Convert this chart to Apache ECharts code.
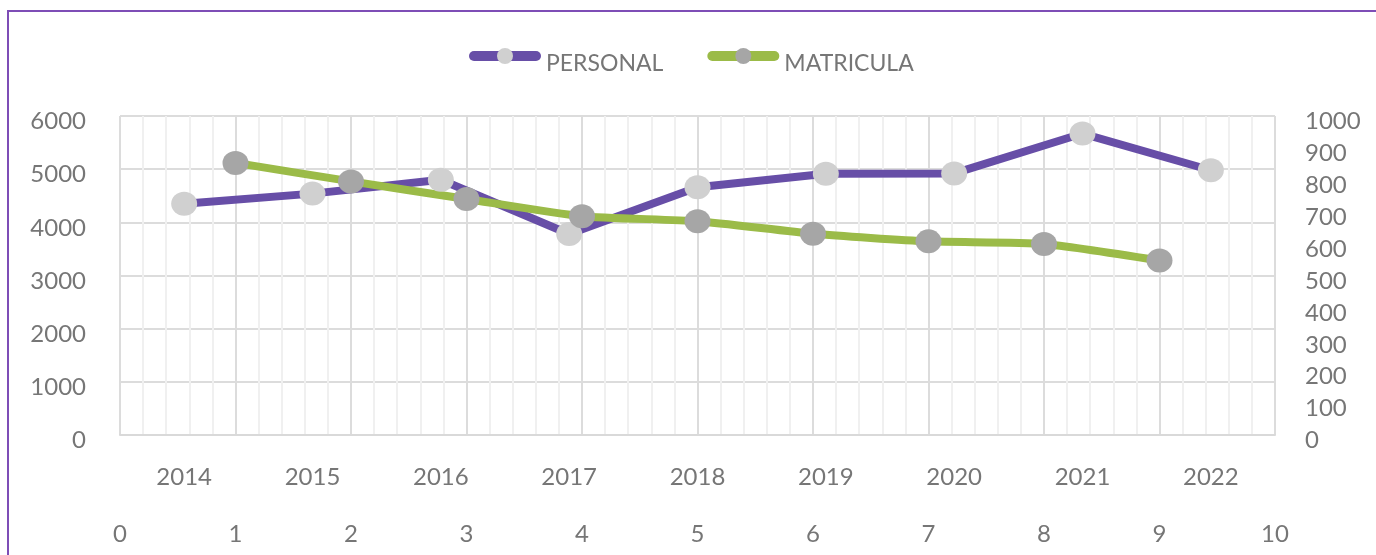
<!DOCTYPE html>
<html lang="es">

<head>
    <meta charset="UTF-8">
    <title>Personal y Matricula</title>
    <script src="https://cdnjs.cloudflare.com/ajax/libs/echarts/6.0.0/echarts.min.js"></script>
    <style>
        html,
        body {
            margin: 0;
            padding: 0;
            background: #fff;
        }
    </style>
</head>

<body>
    <div id="main" style="width: 1376px;height:555px;"></div>
    <script>
        // datos
        const years = ['2014', '2015', '2016', '2017', '2018', '2019', '2020', '2021', '2022'];
        const personal = [4350, 4540, 4800, 3780, 4660, 4915, 4920, 5670, 4980];
        const matriculaX = [1, 2, 3, 4, 5, 6, 7, 8, 9];
        const matricula = [853, 795, 740, 686, 670, 631, 607, 599, 547];

        const chart = echarts.init(document.getElementById('main'));

        const labelColor = '#767676';
        const font = 'Lato, "Open Sans", sans-serif';

        // etiquetas del eje y un poco mas abajo (como en Excel)
        const yLabel = (margin) => ({
            margin: margin,
            formatter: (v) => '{n|' + v + '}',
            rich: {
                n: { color: labelColor, fontSize: 24, fontFamily: font, padding: [11, 0, 0, 0] }
            }
        });

        const option = {
            animation: false,
            graphic: [{
                type: 'rect',
                shape: { x: 8, y: 11, width: 1500, height: 700 },
                style: { fill: 'none', stroke: '#7e4db6', lineWidth: 2 },
                silent: true
            }],
            legend: {
                left: 464,
                top: 43,
                itemWidth: 62,
                itemHeight: 20,
                itemGap: 44,
                formatter: '{t|{name}}',
                textStyle: {
                    rich: {
                        t: { color: labelColor, fontSize: 23, fontFamily: font, padding: [15, 0, 0, 5] }
                    }
                },
                data: [
                    {
                        name: 'PERSONAL',
                        itemStyle: { color: '#d0d0d0', borderWidth: 0 },
                        lineStyle: { color: '#674ea7', width: 10, cap: 'round' }
                    },
                    {
                        name: 'MATRICULA',
                        itemStyle: { color: '#a6a6a6', borderWidth: 0 },
                        lineStyle: { color: '#9bbb48', width: 10, cap: 'round' }
                    }
                ]
            },
            grid: { left: 120, right: 101, top: 116, bottom: 120 },
            xAxis: [
                {
                    type: 'category',
                    data: years,
                    position: 'bottom',
                    boundaryGap: true,
                    axisLine: { lineStyle: { color: '#d9d9d9', width: 2 } },
                    axisTick: { length: 8, lineStyle: { color: '#d9d9d9', width: 2 } },
                    axisLabel: { color: labelColor, fontSize: 24, fontFamily: font, margin: 30, interval: 0 },
                    splitLine: { show: false }
                },
                {
                    type: 'value',
                    position: 'bottom',
                    offset: 56,
                    min: 0,
                    max: 10,
                    interval: 1,
                    axisLine: { show: false },
                    axisTick: { show: false },
                    minorTick: { show: false, splitNumber: 5 },
                    axisLabel: { color: labelColor, fontSize: 24, fontFamily: font, margin: 31 },
                    splitLine: { show: true, lineStyle: { color: '#dcdcdc', width: 2 } },
                    minorSplitLine: { show: true, lineStyle: { color: '#f0f0f0', width: 2 } }
                }
            ],
            yAxis: [
                {
                    type: 'value',
                    position: 'left',
                    min: 0,
                    max: 6000,
                    interval: 1000,
                    axisLine: { show: false },
                    axisTick: { show: false },
                    axisLabel: yLabel(34),
                    splitLine: { show: true, lineStyle: { color: '#dcdcdc', width: 2 } }
                },
                {
                    type: 'value',
                    position: 'right',
                    min: 0,
                    max: 1000,
                    interval: 100,
                    axisLine: { show: false },
                    axisTick: { show: false },
                    axisLabel: yLabel(30),
                    splitLine: { show: false }
                }
            ],
            series: [
                {
                    name: 'PERSONAL',
                    type: 'line',
                    xAxisIndex: 0,
                    yAxisIndex: 0,
                    data: personal,
                    symbol: 'circle',
                    symbolSize: [26, 24],
                    itemStyle: { color: '#d0d0d0' },
                    lineStyle: { color: '#674ea7', width: 8 }
                },
                {
                    name: 'MATRICULA',
                    type: 'line',
                    xAxisIndex: 1,
                    yAxisIndex: 1,
                    data: matriculaX.map((x, i) => [x, matricula[i]]),
                    smooth: 0.2,
                    symbol: 'circle',
                    symbolSize: [26, 24],
                    itemStyle: { color: '#a6a6a6' },
                    lineStyle: { color: '#9bbb48', width: 8 }
                }
            ]
        };

        chart.setOption(option);
    </script>
</body>

</html>
